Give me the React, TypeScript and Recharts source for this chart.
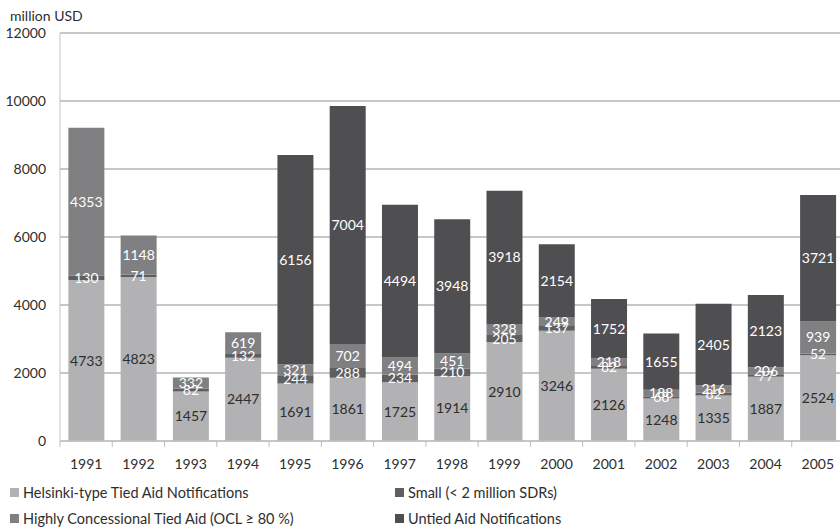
import { BarChart, Bar, XAxis, YAxis, CartesianGrid, LabelList } from 'recharts'

const years = ['1991', '1992', '1993', '1994', '1995', '1996', '1997', '1998', '1999', '2000', '2001', '2002', '2003', '2004', '2005']
const helsinki = [4733, 4823, 1457, 2447, 1691, 1861, 1725, 1914, 2910, 3246, 2126, 1248, 1335, 1887, 2524]
const small = [130, 71, 82, 132, 244, 288, 234, 210, 205, 137, 82, 68, 82, 77, 52]
const concessional = [4353, 1148, 332, 619, 321, 702, 494, 451, 328, 249, 218, 188, 216, 206, 939]
const untied = [0, 0, 0, 0, 6156, 7004, 4494, 3948, 3918, 2154, 1752, 1655, 2405, 2123, 3721]
const yTicks = [0, 2000, 4000, 6000, 8000, 10000, 12000]

const series = [
  { key: 'helsinki', name: 'Helsinki-type Tied Aid Notifications', color: '#b2b2b4', text: '#2e2e2e' },
  { key: 'small', name: 'Small (< 2 million SDRs)', color: '#5f5f61', text: '#ffffff' },
  { key: 'concessional', name: 'Highly Concessional Tied Aid (OCL \u2265 80 %)', color: '#808082', text: '#ffffff' },
  { key: 'untied', name: 'Untied Aid Notifications', color: '#4f4f51', text: '#ffffff' },
]

const data = years.map((year, i) => ({
  year,
  helsinki: helsinki[i],
  small: small[i],
  concessional: concessional[i],
  untied: untied[i],
}))

const FONT = 'Lato, "Open Sans", sans-serif'
const CHART_W = 848
const MARGIN = { top: 33, right: 4, left: 0, bottom: 59 }
const Y_W = 60
const STEP = (CHART_W - MARGIN.left - MARGIN.right - Y_W) / years.length

function YearTick(props: any) {
  const { x, y, payload } = props
  return (
    <g>
      <line x1={x - STEP / 2} y1={y - 8} x2={x - STEP / 2} y2={y - 2} stroke="#bdbdbd" />
      {props.index === years.length - 1 && (
        <line x1={x + STEP / 2} y1={y - 8} x2={x + STEP / 2} y2={y - 2} stroke="#bdbdbd" />
      )}
      <text x={x} y={y + 20} textAnchor="middle" fill="#2e2e2e" fontSize={14} fontFamily={FONT}>
        {payload.value}
      </text>
    </g>
  )
}

const hideZero = (v: any) => (v ? v : '')

export default function App() {
  return (
    <div style={{ position: 'absolute', left: 0, top: 0, width: 840, height: 530, overflow: 'hidden', background: '#fff', fontFamily: FONT }}>
      <div style={{ position: 'absolute', left: 10, top: 7, fontSize: 14, color: '#2e2e2e' }}>million USD</div>
      <BarChart width={CHART_W} height={530} data={data} margin={MARGIN} barCategoryGap="16%">
        <CartesianGrid vertical={false} stroke="#8e8e8e" />
        <XAxis
          dataKey="year"
          height={30}
          stroke="#c4c4c4"
          tickLine={false}
          tick={<YearTick />}
          interval={0}
        />
        <YAxis
          width={Y_W}
          domain={[0, 12000]}
          ticks={yTicks}
          stroke="#c4c4c4"
          tickLine={false}
          tickSize={0}
          tickMargin={14}
          tick={{ fill: '#2e2e2e', fontSize: 14, fontFamily: FONT }}
        />
        {series.map((s) => (
          <Bar key={s.key} dataKey={s.key} name={s.name} stackId="a" fill={s.color} isAnimationActive={false}>
            <LabelList
              dataKey={s.key}
              position="center"
              formatter={hideZero}
              fill={s.text}
              fontSize={14}
              fontFamily={FONT}
            />
          </Bar>
        ))}
      </BarChart>
      <div
        style={{
          position: 'absolute',
          left: 10,
          top: 483,
          display: 'grid',
          gridTemplateColumns: '385px 300px',
          rowGap: 7,
          fontSize: 14.5,
          color: '#2e2e2e',
        }}
      >
        {series.map((s) => (
          <div key={s.key} style={{ display: 'flex', alignItems: 'center', height: 19 }}>
            <span style={{ display: 'inline-block', width: 9, height: 9, background: s.color, marginRight: 4 }} />
            <span>{s.name}</span>
          </div>
        ))}
      </div>
    </div>
  )
}
